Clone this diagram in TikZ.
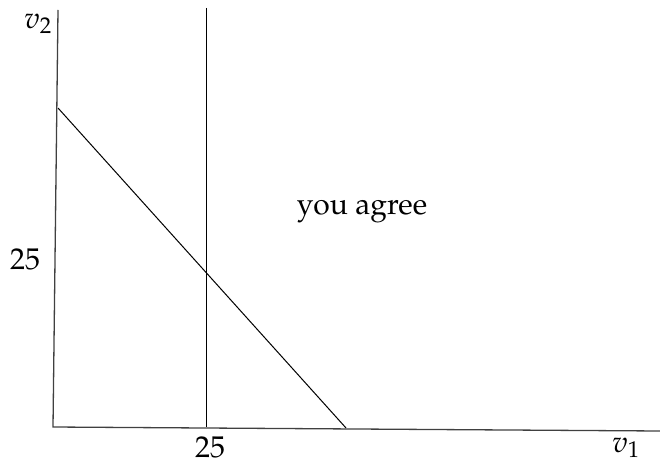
\documentclass[tikz,border=0pt]{standalone}
\usepackage[T1]{fontenc}
\usepackage{mathpazo}
\begin{document}
\begin{tikzpicture}[x=1pt,y=-1pt,
  axis/.style={line width=1.3pt, black!75},
  ln/.style={line width=1pt, black},
  lbl/.style={font=\fontsize{30}{34}\selectfont, inner sep=0pt}]
\useasboundingbox (0,0) rectangle (660,462);
\coordinate (O) at (53,427);
\coordinate (Ytop) at (58,10);
\coordinate (Xend) at (660,431);
\coordinate (Vt) at (206,8);
\coordinate (Vb) at (206,427);
\coordinate (Da) at (58,108);
\coordinate (Db) at (346,428);
\draw[axis] (Ytop) -- (O) -- (Xend);
\draw[ln] (Vt) -- (Vb);
\draw[ln] (Da) -- (Db);
\node[lbl] (v2) at (38,24) {$v_2$};
\node[lbl] (v1) at (626,448) {$v_1$};
\node[lbl] (y25) at (25,259) {25};
\node[lbl] (x25) at (210,447) {25};
\node[lbl] (agree) at (362,211) {you agree};
\end{tikzpicture}
\end{document}
